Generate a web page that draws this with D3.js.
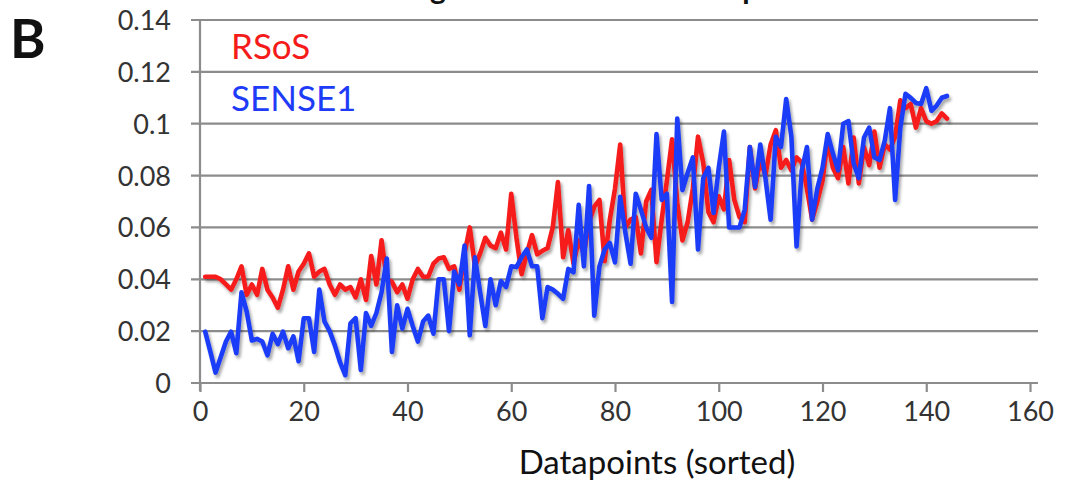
<!DOCTYPE html>
<html>
<head>
<meta charset="utf-8">
<script src="https://cdn.jsdelivr.net/npm/d3@7"></script>
<style>
  html, body { margin: 0; padding: 0; background: #fff; }
  svg { display: block; }
  text { font-family: Lato, "Open Sans", sans-serif; }
</style>
</head>
<body>
<svg id="chart" width="1066" height="485"></svg>
<script>
// Sorted datapoint index (1..144)
const datapoints = d3.range(1, 145);

// RSoS series
const rsos = [
  0.041, 0.041, 0.041, 0.040, 0.038, 0.036, 0.040, 0.045, 0.034, 0.038,
  0.034, 0.044, 0.036, 0.033, 0.029, 0.036, 0.045, 0.036, 0.043, 0.046,
  0.050, 0.041, 0.043, 0.044, 0.038, 0.034, 0.038, 0.036, 0.037, 0.033,
  0.040, 0.032, 0.049, 0.038, 0.055, 0.040, 0.039, 0.035, 0.038, 0.0325,
  0.040, 0.044, 0.041, 0.041, 0.046, 0.048, 0.0485, 0.044, 0.045, 0.036,
  0.050, 0.060, 0.045, 0.050, 0.056, 0.053, 0.052, 0.058, 0.0515, 0.073,
  0.056, 0.042, 0.050, 0.057, 0.0496, 0.051, 0.052, 0.060, 0.0775, 0.0485,
  0.059, 0.046, 0.055, 0.050, 0.062, 0.068, 0.0706, 0.047, 0.063, 0.075,
  0.092, 0.060, 0.063, 0.064, 0.050, 0.070, 0.0745, 0.0466, 0.063, 0.078,
  0.094, 0.0695, 0.055, 0.062, 0.075, 0.095, 0.085, 0.066, 0.062, 0.072,
  0.067, 0.086, 0.0706, 0.064, 0.062, 0.091, 0.075, 0.086, 0.080, 0.092,
  0.0975, 0.083, 0.086, 0.082, 0.087, 0.085, 0.075, 0.063, 0.070, 0.078,
  0.0935, 0.083, 0.079, 0.091, 0.077, 0.0947, 0.077, 0.091, 0.084, 0.097,
  0.083, 0.092, 0.090, 0.095, 0.109, 0.106, 0.1076, 0.0985, 0.106, 0.101,
  0.100, 0.101, 0.104, 0.102
];

// SENSE1 series
const sense1 = [
  0.0198, 0.012, 0.004, 0.010, 0.016, 0.0198, 0.0115, 0.035, 0.0275, 0.0164,
  0.017, 0.016, 0.0107, 0.019, 0.015, 0.0198, 0.0134, 0.018, 0.0084, 0.025,
  0.025, 0.012, 0.036, 0.0237, 0.020, 0.0145, 0.008, 0.003, 0.023, 0.025,
  0.005, 0.027, 0.022, 0.027, 0.035, 0.048, 0.012, 0.030, 0.021, 0.0286,
  0.022, 0.016, 0.0237, 0.026, 0.019, 0.040, 0.040, 0.020, 0.043, 0.038,
  0.053, 0.0184, 0.0485, 0.035, 0.022, 0.040, 0.030, 0.0393, 0.037, 0.045,
  0.0447, 0.0485, 0.0515, 0.045, 0.045, 0.025, 0.037, 0.036, 0.0344, 0.0325,
  0.044, 0.0427, 0.0687, 0.045, 0.076, 0.026, 0.045, 0.0515, 0.054, 0.0465,
  0.0718, 0.058, 0.046, 0.073, 0.0668, 0.060, 0.056, 0.096, 0.0706, 0.073,
  0.0313, 0.102, 0.0744, 0.081, 0.087, 0.0515, 0.079, 0.083, 0.0656, 0.083,
  0.097, 0.060, 0.060, 0.060, 0.0668, 0.091, 0.0756, 0.092, 0.079, 0.063,
  0.095, 0.091, 0.1095, 0.095, 0.0527, 0.082, 0.091, 0.063, 0.075, 0.083,
  0.096, 0.0886, 0.082, 0.100, 0.101, 0.0847, 0.079, 0.0947, 0.0985, 0.087,
  0.086, 0.0935, 0.106, 0.0706, 0.0985, 0.1115, 0.110, 0.108, 0.1076, 0.1137,
  0.105, 0.107, 0.110, 0.1107
];

const seriesNames = ["RSoS", "SENSE1"];
const seriesColors = ["#f61b1b", "#1e3cf7"];
const xTicks = [0, 20, 40, 60, 80, 100, 120, 140, 160];
const yTicks = [0, 0.02, 0.04, 0.06, 0.08, 0.1, 0.12, 0.14];
const xTitle = "Datapoints (sorted)";
const panelLabel = "B";
const chartTitle = "Average Noise Enhancement per Dataset";

const svg = d3.select("#chart");
const W = 1066, H = 485;
svg.append("rect").attr("width", W).attr("height", H).attr("fill", "#fff");

const x = d3.scaleLinear().domain([0, 160]).range([200, 1030]);
const y = d3.scaleLinear().domain([0, 0.14]).range([383, 20]);

// soft shadow under the lines
const defs = svg.append("defs");
const f = defs.append("filter").attr("id", "shadow")
  .attr("x", "-5%").attr("y", "-10%").attr("width", "110%").attr("height", "130%");
f.append("feDropShadow").attr("dx", 2).attr("dy", 3).attr("stdDeviation", 1.8)
  .attr("flood-color", "#000").attr("flood-opacity", 0.35);

// title, mostly above the top edge
svg.append("text")
  .attr("x", 625).attr("y", -1)
  .attr("text-anchor", "middle")
  .attr("font-weight", "bold")
  .attr("font-size", 30)
  .attr("fill", "#111")
  .text(chartTitle);

// panel letter
svg.append("text")
  .attr("x", 10).attr("y", 58)
  .attr("font-weight", "bold")
  .attr("font-size", 54)
  .attr("fill", "#111")
  .text(panelLabel);

// horizontal gridlines (extend a little left of the axis as tick marks)
svg.append("g").selectAll("line").data(yTicks).join("line")
  .attr("x1", 191).attr("x2", 1038)
  .attr("y1", d => y(d)).attr("y2", d => y(d))
  .attr("stroke", "#8c8c8c").attr("stroke-width", 2.2);

// y axis line
svg.append("line")
  .attr("x1", x(0)).attr("x2", x(0))
  .attr("y1", y(0.14)).attr("y2", y(0) + 8)
  .attr("stroke", "#8c8c8c").attr("stroke-width", 2.2);

// y tick labels
const yAxis = d3.axisLeft(y).tickValues(yTicks)
  .tickFormat(d => d === 0 ? "0" : d3.format(".2~f")(d))
  .tickSize(0).tickPadding(0);
const gy = svg.append("g").attr("transform", "translate(171,0)").call(yAxis);
gy.select(".domain").remove();
gy.selectAll("text")
  .attr("font-family", "Lato, sans-serif")
  .attr("font-size", 27)
  .attr("fill", "#333")
  .attr("dy", "0.35em");

// x axis with downward ticks
const xAxis = d3.axisBottom(x).tickValues(xTicks).tickSize(9).tickPadding(10);
const gx = svg.append("g").attr("transform", `translate(0,${y(0)})`).call(xAxis);
gx.select(".domain").attr("stroke", "none");
gx.selectAll(".tick line").attr("stroke", "#8c8c8c").attr("stroke-width", 2.2);
gx.selectAll("text")
  .attr("font-family", "Lato, sans-serif")
  .attr("font-size", 27)
  .attr("fill", "#333");

// x axis title
svg.append("text")
  .attr("x", 657).attr("y", 474)
  .attr("text-anchor", "middle")
  .attr("font-size", 33)
  .attr("fill", "#111")
  .text(xTitle);

// series lines
const series = [rsos, sense1];
const line = d3.line()
  .x((d, i) => x(datapoints[i]))
  .y(d => y(d));

svg.append("g").attr("filter", "url(#shadow)")
  .selectAll("path").data(series).join("path")
  .attr("d", d => line(d))
  .attr("fill", "none")
  .attr("stroke", (d, i) => seriesColors[i])
  .attr("stroke-width", 4.6)
  .attr("stroke-linejoin", "round")
  .attr("stroke-linecap", "round");

// legend labels
svg.append("g").selectAll("text").data(seriesNames).join("text")
  .attr("x", 231)
  .attr("y", (d, i) => 59 + i * 52)
  .attr("font-size", 35)
  .attr("fill", (d, i) => seriesColors[i])
  .text(d => d);
</script>
</body>
</html>
